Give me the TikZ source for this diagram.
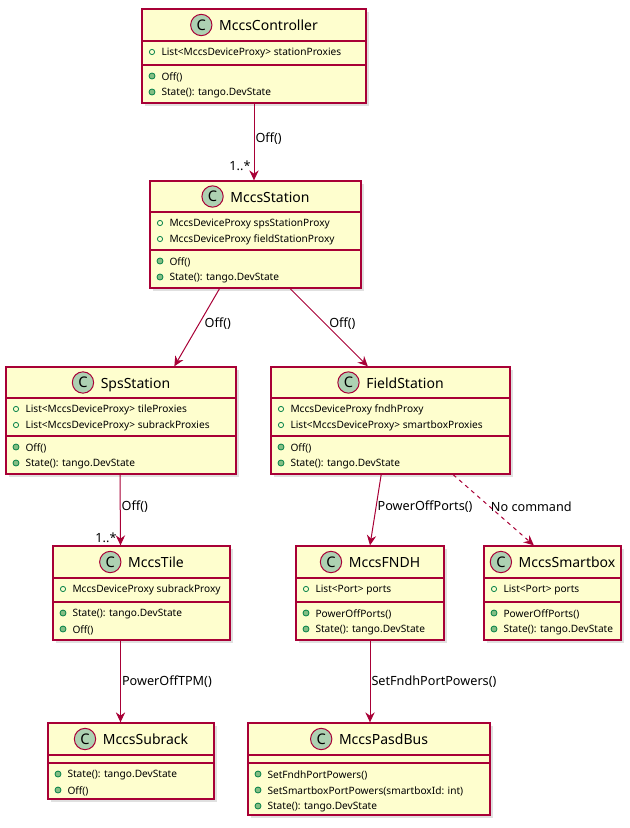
\documentclass[tikz,border=0pt]{standalone}
\usepackage{fontspec}
\setmainfont{Noto Sans}
\usetikzlibrary{arrows.meta}
\definecolor{umlred}{RGB}{168,0,54}
\definecolor{umlfill}{RGB}{254,254,206}
\definecolor{iconfill}{RGB}{173,209,178}
\definecolor{memgreen}{RGB}{3,128,72}
\definecolor{dotfill}{RGB}{132,190,132}

\tikzset{every picture/.style={line width=0.75pt}}
\tikzset{
  box/.style={draw=umlred,fill=umlfill,line width=1pt,inner sep=0pt},
  shade box/.style={fill=black!12,draw=none},
  member/.style={anchor=west,inner sep=0.75pt,font=\fontsize{7.6}{9}\selectfont},
  edge label/.style={anchor=west,inner sep=0.75pt,font=\fontsize{9.5}{11}\selectfont},
  call/.style={draw=umlred,-{Stealth[length=7.5pt,width=7pt,inset=2.5pt]}},
}
\newcommand{\classicon}{\tikz[baseline=-0.75ex]\node[circle,draw=umlred,fill=iconfill,line width=0.75pt,inner sep=0pt,minimum size=16pt,font=\bfseries\fontsize{11}{11}\selectfont]{C};}
% name, left, top, right, bottom, title, separator 1, separator 2
\newcommand{\classbox}[8]{%
  \fill[shade box] (#2+3,#3+3) rectangle (#4+3,#5+3);
  \node[box,minimum width={(#4-#2)*0.75pt},minimum height={(#5-#3)*0.75pt}] (#1) at ({(#2+#4)/2},{(#3+#5)/2}) {};
  \draw[umlred,line width=1pt] (#2,#7) -- (#4,#7) (#2,#8) -- (#4,#8);
  \node[inner sep=0pt,font=\fontsize{10.5}{12}\selectfont] at ({(#2+#4)/2},{(#3+#7)/2}) {\classicon\hspace{5pt}#6};
}
\newcommand{\fieldlist}[3]{%
  \foreach \t [count=\i] in {#3} {
    \draw[memgreen,line width=0.6pt] (#1+10,#2+\i*16-9) circle (2.6);
    \node[member] at (#1+18,#2+\i*16-8) {\t};
  }
}
\newcommand{\methodlist}[3]{%
  \foreach \t [count=\i] in {#3} {
    \draw[memgreen,fill=dotfill,line width=0.6pt] (#1+10,#2+\i*16-9) circle (3);
    \node[member] at (#1+18,#2+\i*16-8) {\t};
  }
}

\begin{document}
\begin{tikzpicture}[x=0.75pt,y=0.75pt,yscale=-1,xscale=1]
\useasboundingbox (0,0) rectangle (629,828);

% classes
\classbox{ctrl}{142}{9}{366}{103}{MccsController}{41}{65}
\fieldlist{142}{45}{List<MccsDeviceProxy> stationProxies}
\methodlist{142}{69}{Off(),State(): tango.DevState}

\classbox{station}{150}{181}{361}{288}{MccsStation}{212}{250}
\fieldlist{150}{216}{MccsDeviceProxy spsStationProxy,MccsDeviceProxy fieldStationProxy}
\methodlist{150}{254}{Off(),State(): tango.DevState}

\classbox{sps}{6}{367}{236}{474}{SpsStation}{398}{436}
\fieldlist{6}{402}{List<MccsDeviceProxy> tileProxies,List<MccsDeviceProxy> subrackProxies}
\methodlist{6}{440}{Off(),State(): tango.DevState}

\classbox{field}{271}{367}{510}{474}{FieldStation}{398}{436}
\fieldlist{271}{402}{MccsDeviceProxy fndhProxy,List<MccsDeviceProxy> smartboxProxies}
\methodlist{271}{440}{Off(),State(): tango.DevState}

\classbox{tile}{53}{546}{230}{640}{MccsTile}{578}{602}
\fieldlist{53}{582}{MccsDeviceProxy subrackProxy}
\methodlist{53}{606}{State(): tango.DevState,Off()}

\classbox{fndh}{296}{546}{444}{640}{MccsFNDH}{578}{602}
\fieldlist{296}{582}{List<Port> ports}
\methodlist{296}{606}{PowerOffPorts(),State(): tango.DevState}

\classbox{smartbox}{484}{546}{621}{640}{MccsSmartbox}{578}{602}
\fieldlist{484}{582}{List<Port> ports}
\methodlist{484}{606}{PowerOffPorts(),State(): tango.DevState}

\classbox{subrack}{48}{723}{214}{799}{MccsSubrack}{755}{763}
\methodlist{48}{767}{State(): tango.DevState,Off()}

\classbox{pasd}{248}{723}{490}{815}{MccsPasdBus}{755}{763}
\methodlist{248}{767}{SetFndhPortPowers(),SetSmartboxPortPowers(smartboxId: int),State(): tango.DevState}

% connectors
\draw[call] (ctrl.south) -- node[edge label,pos=0.45] {Off()} (station.north -| ctrl.south);
\node[edge label,anchor=east] at (252,166) {1..*};
\draw[call] ([xshift=-27pt]station.south) -- node[edge label,pos=0.45,xshift=3pt] {Off()} ([xshift=40pt]sps.north);
\draw[call] ([xshift=26pt]station.south) -- node[edge label,pos=0.45,xshift=2pt] {Off()} ([xshift=-17pt]field.north);
\draw[call] ([xshift=-0.75pt]sps.south) -- node[edge label,pos=0.45] {Off()} ([xshift=-15.75pt]tile.north);
\node[edge label,anchor=east] at (118,538) {1..*};
\draw[call] ([xshift=-7pt]field.south) -- node[edge label,pos=0.45] {PowerOffPorts()} (fndh.north);
\draw[call,dashed] ([xshift=47pt]field.south) -- node[edge label,pos=0.45] {No command} ([xshift=-14pt]smartbox.north);
\draw[call] ([xshift=-15.75pt]tile.south) -- node[edge label,pos=0.5] {PowerOffTPM()} ([xshift=-15.75pt]tile.south |- subrack.north);
\draw[call] (fndh.south) -- node[edge label,pos=0.5] {SetFndhPortPowers()} (pasd.north -| fndh.south);

\end{tikzpicture}
\end{document}
